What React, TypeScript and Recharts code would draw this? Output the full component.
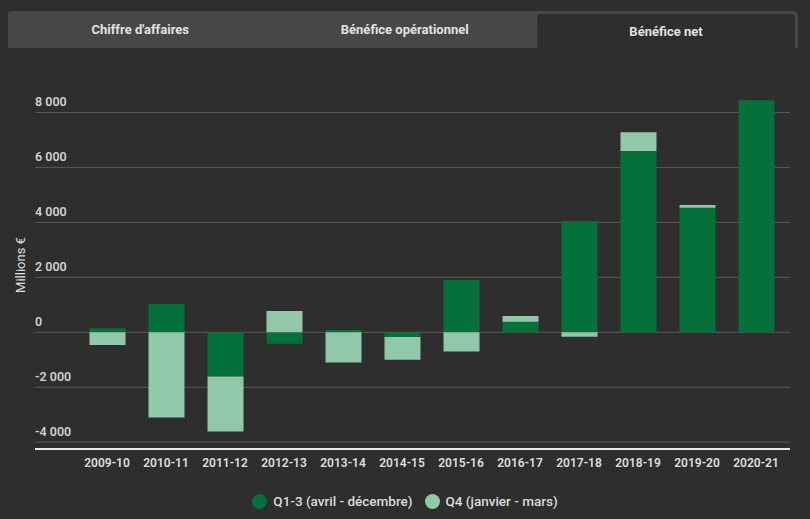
import { Bar, BarChart, CartesianGrid, XAxis, YAxis } from "recharts";

const seasons = [
  "2009-10", "2010-11", "2011-12", "2012-13", "2013-14", "2014-15",
  "2015-16", "2016-17", "2017-18", "2018-19", "2019-20", "2020-21",
];
// Q1-3 (avril - décembre), millions €
const q13 = [145, 1030, -1615, -415, 85, -170, 1900, 385, 4047, 6593, 4531, 8447];
// Q4 (janvier - mars), millions €
const q4 = [-460, -3105, -2000, 775, -1105, -830, -705, 205, -160, 690, 100, 0];
const yTicks = [-4000, -2000, 0, 2000, 4000, 6000, 8000];
const tabs = ["Chiffre d'affaires", "Bénéfice opérationnel", "Bénéfice net"];

const DARK = "#04703a";
const LIGHT = "#92c8aa";
const BG = "#2e2e2e";
const FONT = "Roboto, 'Noto Sans', sans-serif";

const data = seasons.map((s, i) => ({ season: s, q13: q13[i], q4: q4[i] }));

const fmt = (v: number) => {
  const s = Math.abs(v).toString().replace(/\B(?=(\d{3})+(?!\d))/g, " ");
  return v < 0 ? `-${s}` : s;
};

const renderYTick = (props: any) => {
  const { y, payload } = props;
  return (
    <text x={35} y={y - 6} fill="#d0d0d0" fontSize={12.5} fontWeight={600} textAnchor="start" fontFamily={FONT}>
      {fmt(payload.value)}
    </text>
  );
};

export default function App() {
  return (
    <div style={{ position: "absolute", left: 0, top: 0, width: 810, height: 519, background: BG, fontFamily: FONT, overflow: "hidden" }}>
      {/* tab strip */}
      <div style={{ position: "absolute", left: 8, top: 11, width: 790, height: 37, background: "#474747", borderRadius: "3px 5px 0 0" }} />
      {tabs.map((t, i) => {
        const active = i === 2;
        const left = active ? 537 : 8 + i * 264.5;
        const width = active ? 258 : 264.5;
        return (
          <div
            key={t}
            style={{
              position: "absolute",
              left,
              width,
              top: active ? 14 : 11,
              height: active ? 34 : 37,
              display: "flex",
              alignItems: "center",
              justifyContent: "center",
              color: "#e2e2e2",
              fontSize: 13,
              fontWeight: 700,
              background: active ? BG : "transparent",
              borderRadius: active ? "4px 4px 0 0" : 0,
            }}
          >
            {t}
          </div>
        );
      })}

      <div
        style={{
          position: "absolute",
          left: 20,
          top: 265,
          transform: "translate(-50%, -50%) rotate(-90deg)",
          color: "#e0e0e0",
          fontSize: 13,
          whiteSpace: "nowrap",
        }}
      >
        Millions €
      </div>

      <div style={{ position: "absolute", left: 0, top: 0 }}>
        <BarChart
          width={810}
          height={519}
          data={data}
          stackOffset="sign"
          margin={{ top: 85, right: 20, bottom: 40, left: 0 }}
        >
          <CartesianGrid vertical={false} stroke="#5a5a5a" horizontalValues={yTicks} />
          <XAxis
            dataKey="season"
            height={30}
            padding={{ left: 42.5, right: 4.5 }}
            tickLine={false}
            axisLine={{ stroke: "#e8e8e8", strokeWidth: 2 }}
            tickMargin={3}
            tick={{ fill: "#dedede", fontSize: 12, fontWeight: 600, fontFamily: FONT }}
            interval={0}
          />
          <YAxis
            width={35}
            domain={[-4250, 9000]}
            ticks={yTicks}
            axisLine={false}
            tickLine={false}
            tick={renderYTick}
            allowDataOverflow
          />
          <Bar dataKey="q13" stackId="a" fill={DARK} barSize={36} isAnimationActive={false} />
          <Bar dataKey="q4" stackId="a" fill={LIGHT} barSize={36} isAnimationActive={false} />
        </BarChart>
      </div>

      <div
        style={{
          position: "absolute",
          left: 0,
          width: 810,
          top: 493,
          display: "flex",
          justifyContent: "center",
          alignItems: "center",
          gap: 12,
          color: "#dcdcdc",
          fontSize: 13.5,
          fontWeight: 500,
        }}
      >
        <span style={{ display: "inline-flex", alignItems: "center", gap: 6 }}>
          <span style={{ width: 15, height: 15, borderRadius: "50%", background: DARK, display: "inline-block" }} />
          Q1-3 (avril - décembre)
        </span>
        <span style={{ display: "inline-flex", alignItems: "center", gap: 6 }}>
          <span style={{ width: 15, height: 15, borderRadius: "50%", background: LIGHT, display: "inline-block" }} />
          Q4 (janvier - mars)
        </span>
      </div>
    </div>
  );
}
